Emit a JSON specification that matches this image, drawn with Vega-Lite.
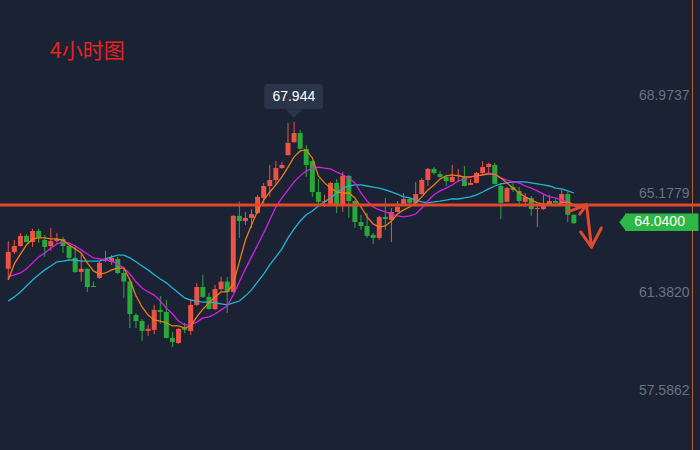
{
  "$schema": "https://vega.github.io/schema/vega-lite/v6.json",
  "width": 700,
  "height": 450,
  "autosize": "none",
  "padding": 0,
  "background": "#1b2233",
  "config": {"view": {"stroke": null}},
  "title": {"text": "4小时图", "anchor": "start", "frame": "group", "orient": "top", "offset": 0, "dx": 50, "dy": 79, "baseline": "alphabetic", "color": "#e8231f", "fontSize": 21, "font": "Noto Sans CJK SC", "fontWeight": "normal"},
  "resolve": {"axis": {"y": "independent"}},
  "datasets": {
    "candles": [
      {"i":1,"o":62.28,"h":63.35,"l":61.85,"c":62.93,"m1":61.85,"m2":61.97,"m3":61.04},
      {"i":2,"o":62.93,"h":63.39,"l":62.85,"c":63.16,"m1":62.47,"m2":62.05,"m3":61.20},
      {"i":3,"o":63.16,"h":63.66,"l":63.14,"c":63.55,"m1":62.85,"m2":62.12,"m3":61.39},
      {"i":4,"o":63.55,"h":63.62,"l":63.30,"c":63.31,"m1":63.20,"m2":62.28,"m3":61.62},
      {"i":5,"o":63.31,"h":63.82,"l":63.12,"c":63.74,"m1":63.43,"m2":62.51,"m3":61.85},
      {"i":6,"o":63.74,"h":63.82,"l":63.28,"c":63.47,"m1":63.47,"m2":62.74,"m3":62.05},
      {"i":7,"o":63.39,"h":63.59,"l":62.74,"c":63.12,"m1":63.47,"m2":62.89,"m3":62.24},
      {"i":8,"o":63.16,"h":63.85,"l":62.97,"c":63.35,"m1":63.43,"m2":63.08,"m3":62.39},
      {"i":9,"o":63.35,"h":63.66,"l":63.28,"c":63.43,"m1":63.43,"m2":63.24,"m3":62.55},
      {"i":10,"o":63.43,"h":63.51,"l":62.89,"c":63.16,"m1":63.39,"m2":63.31,"m3":62.58},
      {"i":11,"o":63.16,"h":63.24,"l":62.66,"c":62.70,"m1":63.20,"m2":63.28,"m3":62.62},
      {"i":12,"o":62.70,"h":63.20,"l":62.12,"c":62.16,"m1":63.05,"m2":63.16,"m3":62.62},
      {"i":13,"o":62.16,"h":62.89,"l":61.79,"c":62.28,"m1":62.89,"m2":63.01,"m3":62.58},
      {"i":14,"o":62.28,"h":62.30,"l":61.39,"c":61.58,"m1":62.51,"m2":62.85,"m3":62.58},
      {"i":15,"o":61.62,"h":61.79,"l":61.57,"c":61.58,"m1":62.20,"m2":62.70,"m3":62.58},
      {"i":16,"o":61.93,"h":62.55,"l":61.89,"c":62.51,"m1":62.08,"m2":62.66,"m3":62.58},
      {"i":17,"o":62.58,"h":62.97,"l":62.55,"c":62.66,"m1":62.12,"m2":62.62,"m3":62.66},
      {"i":18,"o":62.55,"h":62.81,"l":62.43,"c":62.70,"m1":62.24,"m2":62.58,"m3":62.74},
      {"i":19,"o":62.66,"h":62.74,"l":62.08,"c":62.12,"m1":62.31,"m2":62.47,"m3":62.81},
      {"i":20,"o":62.12,"h":62.31,"l":61.16,"c":61.79,"m1":62.31,"m2":62.31,"m3":62.81},
      {"i":21,"o":61.79,"h":61.93,"l":60.00,"c":60.54,"m1":61.85,"m2":62.08,"m3":62.70},
      {"i":22,"o":60.50,"h":60.58,"l":60.00,"c":60.27,"m1":61.24,"m2":61.78,"m3":62.55},
      {"i":23,"o":60.27,"h":60.35,"l":59.50,"c":59.89,"m1":60.81,"m2":61.54,"m3":62.39},
      {"i":24,"o":59.89,"h":60.12,"l":59.70,"c":59.97,"m1":60.50,"m2":61.39,"m3":62.24},
      {"i":25,"o":59.93,"h":60.89,"l":59.77,"c":60.70,"m1":60.31,"m2":61.27,"m3":62.05},
      {"i":26,"o":60.70,"h":61.24,"l":60.16,"c":60.62,"m1":60.27,"m2":61.04,"m3":61.89},
      {"i":27,"o":60.62,"h":61.08,"l":59.60,"c":59.62,"m1":60.20,"m2":60.77,"m3":61.74},
      {"i":28,"o":59.62,"h":59.85,"l":59.27,"c":59.46,"m1":60.08,"m2":60.54,"m3":61.54},
      {"i":29,"o":59.42,"h":60.00,"l":59.40,"c":59.97,"m1":60.08,"m2":60.27,"m3":61.35},
      {"i":30,"o":60.00,"h":60.20,"l":59.81,"c":59.93,"m1":60.00,"m2":60.12,"m3":61.16},
      {"i":31,"o":59.89,"h":61.08,"l":59.73,"c":60.89,"m1":60.08,"m2":60.12,"m3":61.08},
      {"i":32,"o":60.89,"h":61.73,"l":60.85,"c":61.58,"m1":60.43,"m2":60.23,"m3":61.04},
      {"i":33,"o":61.58,"h":62.05,"l":61.16,"c":61.20,"m1":60.73,"m2":60.39,"m3":61.00},
      {"i":34,"o":61.20,"h":61.35,"l":60.72,"c":60.73,"m1":60.97,"m2":60.43,"m3":61.00},
      {"i":35,"o":60.73,"h":61.66,"l":60.70,"c":61.50,"m1":61.20,"m2":60.54,"m3":60.97},
      {"i":36,"o":61.50,"h":61.97,"l":61.43,"c":61.79,"m1":61.39,"m2":60.70,"m3":60.93},
      {"i":37,"o":61.79,"h":61.97,"l":60.58,"c":61.39,"m1":61.39,"m2":60.85,"m3":60.89},
      {"i":38,"o":61.39,"h":64.36,"l":61.37,"c":64.32,"m1":61.70,"m2":61.27,"m3":60.97},
      {"i":39,"o":64.32,"h":64.87,"l":63.47,"c":64.12,"m1":62.55,"m2":61.78,"m3":61.04},
      {"i":40,"o":64.12,"h":64.47,"l":63.97,"c":64.24,"m1":63.39,"m2":62.28,"m3":61.24},
      {"i":41,"o":64.24,"h":64.58,"l":63.85,"c":64.39,"m1":63.97,"m2":62.74,"m3":61.47},
      {"i":42,"o":64.43,"h":65.13,"l":64.39,"c":65.05,"m1":64.51,"m2":63.20,"m3":61.78},
      {"i":43,"o":65.01,"h":65.59,"l":64.78,"c":65.47,"m1":64.93,"m2":63.66,"m3":62.08},
      {"i":44,"o":65.47,"h":66.28,"l":65.05,"c":65.70,"m1":65.24,"m2":64.16,"m3":62.43},
      {"i":45,"o":65.70,"h":66.43,"l":65.51,"c":66.16,"m1":65.51,"m2":64.66,"m3":62.74},
      {"i":46,"o":66.16,"h":66.40,"l":66.13,"c":66.28,"m1":65.82,"m2":65.01,"m3":63.05},
      {"i":47,"o":66.66,"h":67.90,"l":66.64,"c":67.13,"m1":66.20,"m2":65.32,"m3":63.47},
      {"i":48,"o":67.16,"h":67.944,"l":67.12,"c":67.51,"m1":66.59,"m2":65.63,"m3":63.82},
      {"i":49,"o":67.51,"h":67.63,"l":66.88,"c":66.90,"m1":66.82,"m2":65.86,"m3":64.12},
      {"i":50,"o":66.90,"h":67.05,"l":65.82,"c":66.28,"m1":66.86,"m2":66.05,"m3":64.36},
      {"i":51,"o":66.43,"h":66.45,"l":65.05,"c":65.24,"m1":66.55,"m2":66.16,"m3":64.51},
      {"i":52,"o":65.24,"h":65.74,"l":64.78,"c":64.86,"m1":65.86,"m2":66.20,"m3":64.70},
      {"i":53,"o":64.86,"h":65.13,"l":64.66,"c":64.89,"m1":65.59,"m2":66.16,"m3":64.86},
      {"i":54,"o":64.78,"h":65.63,"l":64.76,"c":65.59,"m1":65.39,"m2":66.13,"m3":65.01},
      {"i":55,"o":65.59,"h":65.74,"l":64.43,"c":64.74,"m1":65.24,"m2":66.01,"m3":65.20},
      {"i":56,"o":64.74,"h":66.01,"l":64.47,"c":65.86,"m1":65.20,"m2":65.90,"m3":65.39},
      {"i":57,"o":65.86,"h":65.90,"l":64.24,"c":64.89,"m1":65.20,"m2":65.78,"m3":65.47},
      {"i":58,"o":64.89,"h":64.93,"l":63.85,"c":64.08,"m1":65.01,"m2":65.59,"m3":65.51},
      {"i":59,"o":64.08,"h":64.36,"l":63.78,"c":63.93,"m1":64.66,"m2":65.20,"m3":65.51},
      {"i":60,"o":63.93,"h":64.43,"l":63.47,"c":63.55,"m1":64.28,"m2":64.89,"m3":65.47},
      {"i":61,"o":63.59,"h":63.66,"l":63.24,"c":63.47,"m1":64.01,"m2":64.66,"m3":65.43},
      {"i":62,"o":63.47,"h":64.32,"l":63.39,"c":64.28,"m1":63.89,"m2":64.55,"m3":65.39},
      {"i":63,"o":64.28,"h":65.01,"l":63.78,"c":64.20,"m1":63.93,"m2":64.47,"m3":65.32},
      {"i":64,"o":64.16,"h":64.62,"l":63.31,"c":64.47,"m1":64.12,"m2":64.39,"m3":65.24},
      {"i":65,"o":64.47,"h":64.89,"l":64.45,"c":64.66,"m1":64.39,"m2":64.32,"m3":65.16},
      {"i":66,"o":64.74,"h":65.20,"l":64.70,"c":64.97,"m1":64.55,"m2":64.28,"m3":65.05},
      {"i":67,"o":64.97,"h":65.05,"l":64.78,"c":64.82,"m1":64.66,"m2":64.32,"m3":65.01},
      {"i":68,"o":64.82,"h":65.63,"l":64.78,"c":65.16,"m1":64.82,"m2":64.39,"m3":64.93},
      {"i":69,"o":65.16,"h":65.78,"l":65.13,"c":65.70,"m1":65.05,"m2":64.62,"m3":64.86},
      {"i":70,"o":65.70,"h":66.16,"l":65.47,"c":66.13,"m1":65.32,"m2":64.89,"m3":64.82},
      {"i":71,"o":66.13,"h":66.20,"l":65.90,"c":65.97,"m1":65.51,"m2":65.13,"m3":64.86},
      {"i":72,"o":65.93,"h":66.05,"l":65.78,"c":65.82,"m1":65.74,"m2":65.28,"m3":64.89},
      {"i":73,"o":65.82,"h":65.90,"l":65.47,"c":65.66,"m1":65.86,"m2":65.39,"m3":64.93},
      {"i":74,"o":65.63,"h":66.28,"l":65.61,"c":65.82,"m1":65.90,"m2":65.51,"m3":64.97},
      {"i":75,"o":65.86,"h":66.13,"l":65.63,"c":65.90,"m1":65.86,"m2":65.66,"m3":64.97},
      {"i":76,"o":65.82,"h":66.24,"l":65.45,"c":65.47,"m1":65.82,"m2":65.74,"m3":65.01},
      {"i":77,"o":65.51,"h":65.74,"l":65.50,"c":65.59,"m1":65.82,"m2":65.82,"m3":65.05},
      {"i":78,"o":65.59,"h":66.01,"l":65.57,"c":65.97,"m1":65.86,"m2":65.86,"m3":65.13},
      {"i":79,"o":65.97,"h":66.43,"l":65.90,"c":66.20,"m1":65.90,"m2":65.90,"m3":65.24},
      {"i":80,"o":66.20,"h":66.36,"l":65.97,"c":66.32,"m1":65.93,"m2":65.97,"m3":65.36},
      {"i":81,"o":66.28,"h":66.36,"l":65.53,"c":65.55,"m1":65.93,"m2":65.90,"m3":65.47},
      {"i":82,"o":65.47,"h":65.59,"l":64.20,"c":64.82,"m1":65.78,"m2":65.78,"m3":65.55},
      {"i":83,"o":64.86,"h":65.43,"l":64.84,"c":65.39,"m1":65.59,"m2":65.70,"m3":65.59},
      {"i":84,"o":65.43,"h":65.63,"l":65.24,"c":65.32,"m1":65.39,"m2":65.63,"m3":65.63},
      {"i":85,"o":65.28,"h":65.43,"l":64.66,"c":64.89,"m1":65.20,"m2":65.59,"m3":65.63},
      {"i":86,"o":64.86,"h":65.20,"l":64.66,"c":65.05,"m1":65.05,"m2":65.47,"m3":65.63},
      {"i":87,"o":65.01,"h":65.09,"l":64.32,"c":64.58,"m1":64.93,"m2":65.39,"m3":65.59},
      {"i":88,"o":64.58,"h":64.82,"l":63.89,"c":64.62,"m1":64.82,"m2":65.28,"m3":65.55},
      {"i":89,"o":64.58,"h":65.13,"l":64.55,"c":64.74,"m1":64.78,"m2":65.16,"m3":65.51},
      {"i":90,"o":64.74,"h":65.13,"l":64.70,"c":64.89,"m1":64.78,"m2":65.05,"m3":65.47},
      {"i":91,"o":64.89,"h":64.97,"l":64.74,"c":64.82,"m1":64.74,"m2":65.01,"m3":65.39},
      {"i":92,"o":64.82,"h":65.32,"l":64.74,"c":65.16,"m1":64.82,"m2":64.93,"m3":65.36},
      {"i":93,"o":65.16,"h":65.24,"l":64.08,"c":64.36,"m1":64.86,"m2":64.86,"m3":65.28},
      {"i":94,"o":64.36,"h":64.39,"l":64.01,"c":64.04,"m1":64.74,"m2":64.70,"m3":65.20}
    ],
    "arrows": [
      {"x":93.01,"y":64.47,"x2":96.09,"y2":64.74},
      {"x":96.09,"y":64.74,"x2":94.31,"y2":64.70},
      {"x":96.09,"y":64.74,"x2":94.95,"y2":64.39},
      {"x":96.09,"y":64.74,"x2":96.90,"y2":63.12},
      {"x":95.12,"y":63.70,"x2":96.90,"y2":63.12},
      {"x":96.90,"y":63.12,"x2":98.52,"y2":63.85}
    ],
    "ticks": [
      {"v": 68.9737}, {"v": 65.1779}, {"v": 61.382}, {"v": 57.5862}
    ]
  },
  "layer": [
    {
      "data": {"name": "candles"},
      "mark": {"type": "rule", "strokeWidth": 1},
      "encoding": {
        "x": {"field": "i", "type": "quantitative", "scale": {"domain": [0.465, 113.92], "nice": false, "zero": false}, "axis": null},
        "y": {"field": "l", "type": "quantitative", "scale": {"domain": [55.304, 72.632], "nice": false, "zero": false},
              "axis": {"orient": "right", "values": [68.9737, 65.1779, 61.382, 57.5862], "format": ".4f", "title": null, "domain": false, "ticks": false, "grid": false, "labelAlign": "right", "labelBaseline": "middle", "labelPadding": -11, "labelColor": "#6a7282", "labelFontSize": 14, "labelFont": "Liberation Sans", "labelOverlap": false, "labelBound": false, "zindex": 2}},
        "y2": {"field": "h"},
        "color": {"condition": {"test": "datum.c >= datum.o", "value": "#ec5246"}, "value": "#29a83c"}
      }
    },
    {
      "data": {"name": "candles"},
      "mark": {"type": "bar", "size": 5},
      "encoding": {
        "x": {"field": "i", "type": "quantitative", "scale": {"domain": [0.465, 113.92], "nice": false, "zero": false}, "axis": null},
        "y": {"field": "o", "type": "quantitative", "scale": {"domain": [55.304, 72.632], "nice": false, "zero": false}, "axis": null},
        "y2": {"field": "c"},
        "color": {"condition": {"test": "datum.c >= datum.o", "value": "#ec5246"}, "value": "#29a83c"}
      }
    },
    {
      "data": {"name": "candles"},
      "mark": {"type": "line", "color": "#1fb6d0", "strokeWidth": 1.3},
      "encoding": {
        "x": {"field": "i", "type": "quantitative", "scale": {"domain": [0.465, 113.92], "nice": false, "zero": false}, "axis": null},
        "y": {"field": "m3", "type": "quantitative", "scale": {"domain": [55.304, 72.632], "nice": false, "zero": false}, "axis": null}
      }
    },
    {
      "data": {"name": "candles"},
      "mark": {"type": "line", "color": "#d81ee6", "strokeWidth": 1.3},
      "encoding": {
        "x": {"field": "i", "type": "quantitative", "scale": {"domain": [0.465, 113.92], "nice": false, "zero": false}, "axis": null},
        "y": {"field": "m2", "type": "quantitative", "scale": {"domain": [55.304, 72.632], "nice": false, "zero": false}, "axis": null}
      }
    },
    {
      "data": {"name": "candles"},
      "mark": {"type": "line", "color": "#ee7d10", "strokeWidth": 1.3},
      "encoding": {
        "x": {"field": "i", "type": "quantitative", "scale": {"domain": [0.465, 113.92], "nice": false, "zero": false}, "axis": null},
        "y": {"field": "m1", "type": "quantitative", "scale": {"domain": [55.304, 72.632], "nice": false, "zero": false}, "axis": null}
      }
    },
    {
      "data": {"values": [{"p": 64.74}]},
      "mark": {"type": "rule", "color": "#e2472c", "strokeWidth": 3},
      "encoding": {
        "y": {"field": "p", "type": "quantitative", "scale": {"domain": [55.304, 72.632], "nice": false, "zero": false}, "axis": null}
      }
    },
    {
      "data": {"values": [{"q": 113.51}]},
      "mark": {"type": "rule", "color": "#b8602e", "strokeWidth": 1},
      "encoding": {
        "x": {"field": "q", "type": "quantitative", "scale": {"domain": [0.465, 113.92], "nice": false, "zero": false}, "axis": null}
      }
    },
    {
      "data": {"name": "arrows"},
      "mark": {"type": "rule", "color": "#e04a2e", "strokeWidth": 3, "strokeCap": "round"},
      "encoding": {
        "x": {"field": "x", "type": "quantitative", "scale": {"domain": [0.465, 113.92], "nice": false, "zero": false}, "axis": null},
        "y": {"field": "y", "type": "quantitative", "scale": {"domain": [55.304, 72.632], "nice": false, "zero": false}, "axis": null},
        "x2": {"field": "x2"},
        "y2": {"field": "y2"}
      }
    },
    {
      "data": {"values": [{"a": 43.09, "b": 52.75, "t": 69.40, "u": 68.43}]},
      "mark": {"type": "rect", "color": "#2b3549", "cornerRadius": 3},
      "encoding": {
        "x": {"field": "a", "type": "quantitative", "scale": {"domain": [0.465, 113.92], "nice": false, "zero": false}, "axis": null},
        "x2": {"field": "b"},
        "y": {"field": "t", "type": "quantitative", "scale": {"domain": [55.304, 72.632], "nice": false, "zero": false}, "axis": null},
        "y2": {"field": "u"}
      }
    },
    {
      "data": {"values": [{"a": 47.95, "t": 68.26}]},
      "mark": {"type": "point", "shape": "M -1 -0.5 L 1 -0.5 L 0 0.5 Z", "size": 289, "filled": true, "color": "#2b3549", "opacity": 1},
      "encoding": {
        "x": {"field": "a", "type": "quantitative", "scale": {"domain": [0.465, 113.92], "nice": false, "zero": false}, "axis": null},
        "y": {"field": "t", "type": "quantitative", "scale": {"domain": [55.304, 72.632], "nice": false, "zero": false}, "axis": null}
      }
    },
    {
      "data": {"values": [{"a": 47.95, "t": 68.90, "label": "67.944"}]},
      "mark": {"type": "text", "color": "#ffffff", "fontSize": 14, "font": "Liberation Sans", "align": "center", "baseline": "middle"},
      "encoding": {
        "x": {"field": "a", "type": "quantitative", "scale": {"domain": [0.465, 113.92], "nice": false, "zero": false}, "axis": null},
        "y": {"field": "t", "type": "quantitative", "scale": {"domain": [55.304, 72.632], "nice": false, "zero": false}, "axis": null},
        "text": {"field": "label"}
      }
    },
    {
      "data": {"values": [{"a": 102.41, "b": 114.5, "t": 64.41, "u": 63.74}]},
      "mark": {"type": "rect", "color": "#2db744"},
      "encoding": {
        "x": {"field": "a", "type": "quantitative", "scale": {"domain": [0.465, 113.92], "nice": false, "zero": false}, "axis": null},
        "x2": {"field": "b"},
        "y": {"field": "t", "type": "quantitative", "scale": {"domain": [55.304, 72.632], "nice": false, "zero": false}, "axis": null},
        "y2": {"field": "u"}
      }
    },
    {
      "data": {"values": [{"a": 101.95, "t": 64.075}]},
      "mark": {"type": "point", "shape": "M 0.45 -1 L -0.33 0 L 0.45 1 Z", "size": 324, "filled": true, "color": "#2db744", "opacity": 1},
      "encoding": {
        "x": {"field": "a", "type": "quantitative", "scale": {"domain": [0.465, 113.92], "nice": false, "zero": false}, "axis": null},
        "y": {"field": "t", "type": "quantitative", "scale": {"domain": [55.304, 72.632], "nice": false, "zero": false}, "axis": null}
      }
    },
    {
      "data": {"values": [{"a": 108.1, "t": 64.075, "label": "64.0400"}]},
      "mark": {"type": "text", "color": "#ffffff", "fontSize": 14, "font": "Liberation Sans", "align": "center", "baseline": "middle"},
      "encoding": {
        "x": {"field": "a", "type": "quantitative", "scale": {"domain": [0.465, 113.92], "nice": false, "zero": false}, "axis": null},
        "y": {"field": "t", "type": "quantitative", "scale": {"domain": [55.304, 72.632], "nice": false, "zero": false}, "axis": null},
        "text": {"field": "label"}
      }
    }
  ]
}
